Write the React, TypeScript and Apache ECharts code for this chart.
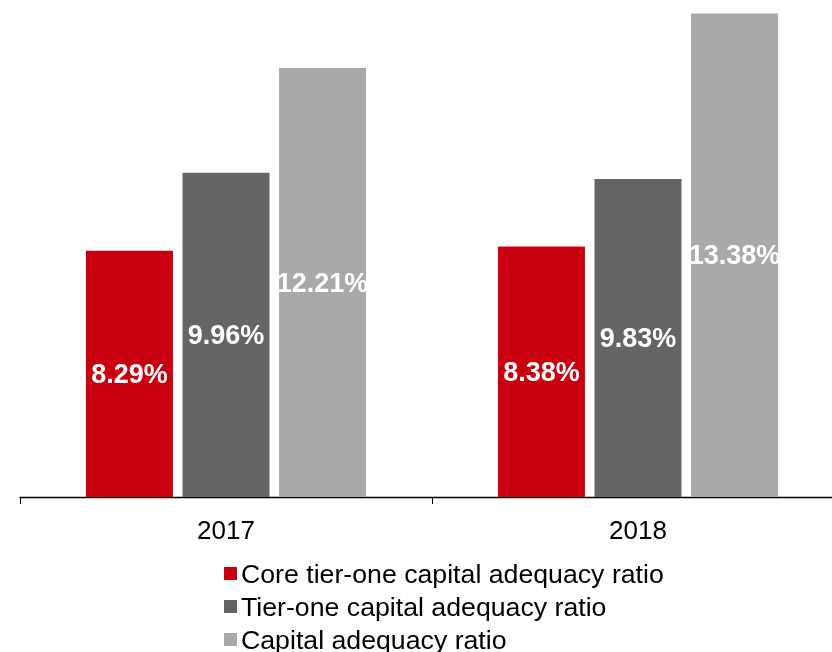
import React, { useEffect, useRef } from "react";
import * as echarts from "echarts";

const categories = ["2017", "2018"];
const seriesNames = [
  "Core tier-one capital adequacy ratio",
  "Tier-one capital adequacy ratio",
  "Capital adequacy ratio",
];
const coreTierOne = [8.29, 8.38];
const tierOne = [9.96, 9.83];
const capitalAdequacy = [12.21, 13.38];
const colors = ["#C8000F", "#666464", "#A9A9A9"];

export default function App() {
  const ref = useRef<HTMLDivElement>(null);
  useEffect(() => {
    if (!ref.current) return;
    const chart = echarts.init(ref.current, null, { renderer: "svg" });
    const values = [coreTierOne, tierOne, capitalAdequacy];
    chart.setOption({
      animation: false,
      textStyle: { fontFamily: "Liberation Sans, Arial, sans-serif" },
      grid: { left: 20, right: 0, top: 8, bottom: 203, containLabel: false },
      legend: {
        orient: "vertical",
        left: 224,
        top: 560,
        padding: 0,
        itemWidth: 13,
        itemHeight: 13,
        itemGap: 6,
        icon: "rect",
        textStyle: {
          fontSize: 26.7,
          lineHeight: 26,
          color: "#000",
          padding: [0, 0, 0, -1],
        },
        data: seriesNames,
      },
      xAxis: {
        type: "category",
        data: categories,
        axisLine: { show: true, lineStyle: { color: "#000", width: 1.3 } },
        axisTick: { show: true, length: 7, lineStyle: { color: "#000" } },
        axisLabel: { fontSize: 26, color: "#000", margin: 20 },
      },
      yAxis: {
        type: "value",
        min: 3,
        max: 13.5,
        show: false,
        splitLine: { show: false },
      },
      series: seriesNames.map((name, i) => ({
        name,
        type: "bar",
        data: values[i],
        barWidth: 87,
        barGap: "11%",
        itemStyle: { color: colors[i] },
        label: {
          show: true,
          position: "inside",
          color: "#fff",
          fontWeight: "bold",
          fontSize: 27,
          formatter: (p: any) => p.value.toFixed(2) + "%",
        },
      })),
    });
    return () => chart.dispose();
  }, []);
  return (
    <div
      ref={ref}
      style={{ position: "fixed", left: 0, top: 0, width: 844, height: 700 }}
    />
  );
}
